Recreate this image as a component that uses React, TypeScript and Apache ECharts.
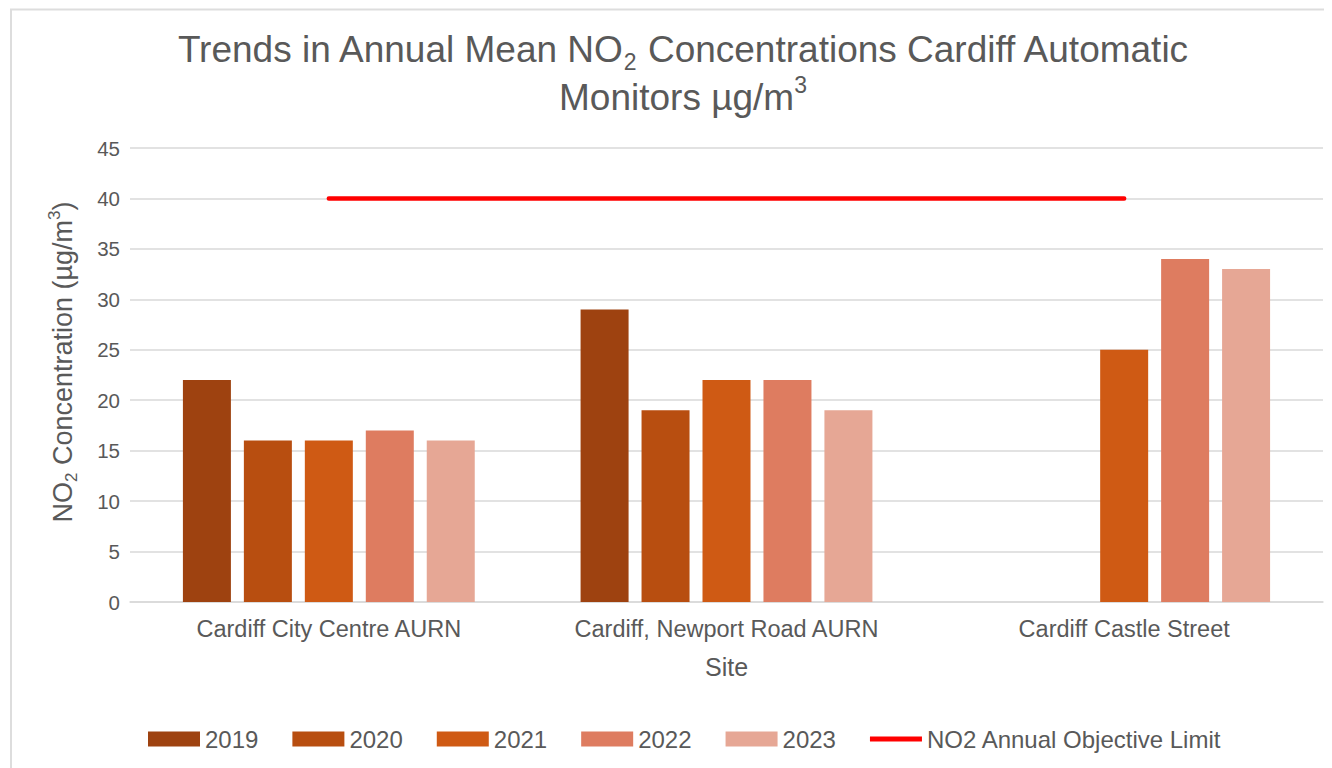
import React, { useEffect, useRef } from "react";
import * as echarts from "echarts";

const categories = ["Cardiff City Centre AURN", "Cardiff, Newport Road AURN", "Cardiff Castle Street"];
const years = ["2019", "2020", "2021", "2022", "2023"];
const values2019 = [22, 29, null];
const values2020 = [16, 19, null];
const values2021 = [16, 22, 25];
const values2022 = [17, 22, 34];
const values2023 = [16, 19, 33];
const limitName = "NO2 Annual Objective Limit";
const limitValues = [40, 40, 40];
const barColors = ["#9E4210", "#B84E10", "#CF5A14", "#DE7C60", "#E6A795"];

const FONT = "'Liberation Sans', Arial, sans-serif";
const TXT = "#595959";

export default function App() {
  const ref = useRef<HTMLDivElement>(null);
  useEffect(() => {
    if (!ref.current) return;
    const chart = echarts.init(ref.current, null, { renderer: "svg" });
    const barData = [values2019, values2020, values2021, values2022, values2023];
    const option: any = {
      animation: false,
      backgroundColor: "#ffffff",
      textStyle: { fontFamily: FONT },
      graphic: [
        {
          type: "rect",
          silent: true,
          shape: { x: 3, y: 1.5, width: 1500, height: 900 },
          style: { fill: "none", stroke: "#DDDDDD", lineWidth: 2 },
        },
        {
          type: "text",
          x: 675,
          y: 17,
          style: {
            text: "{a|Trends in Annual Mean NO}{sub|2}{a| Concentrations Cardiff Automatic}\n{a|Monitors µg/m}{sup|3}",
            align: "center",
            verticalAlign: "top",
            fill: TXT,
            fontFamily: FONT,
            fontSize: 37,
            rich: {
              a: { fontSize: 37, lineHeight: 48, fill: TXT, fontFamily: FONT },
              sub: { fontSize: 23, lineHeight: 27, verticalAlign: "bottom", fill: TXT, fontFamily: FONT },
              sup: { fontSize: 23, lineHeight: 39, verticalAlign: "top", fill: TXT, fontFamily: FONT },
            },
          },
        },
      ],
      legend: {
        left: 135,
        top: 714,
        itemWidth: 52,
        itemHeight: 15,
        itemGap: 34,
        itemStyle: { borderWidth: 0 },
        textStyle: { fontSize: 24, color: TXT, fontFamily: FONT },
        data: [
          ...years.map((y) => ({ name: y, icon: "rect" })),
          { name: limitName, icon: "path://M0,0H52V5H0Z", itemStyle: { color: "#FF0000" } },
        ],
      },
      grid: { left: 122, top: 140, width: 1193, height: 454, containLabel: false },
      xAxis: {
        type: "category",
        data: categories,
        name: "Site",
        nameLocation: "middle",
        nameGap: 52,
        nameTextStyle: { fontSize: 25, color: TXT, fontFamily: FONT },
        axisLine: { lineStyle: { color: "#D9D9D9", width: 1.5 } },
        axisTick: { show: false },
        axisLabel: { fontSize: 23.5, color: TXT, margin: 15, fontFamily: FONT },
      },
      yAxis: {
        type: "value",
        min: 0,
        max: 45,
        interval: 5,
        name: "{a|NO}{sub|2}{a| Concentration (µg/m}{sup|3}{a|)}",
        nameLocation: "middle",
        nameGap: 50,
        nameRotate: 90,
        nameTextStyle: {
          color: TXT,
          fontSize: 27,
          fontFamily: FONT,
          padding: [0, 0, 0, 26],
          rich: {
            a: { fontSize: 27, lineHeight: 34, color: TXT, fontFamily: FONT },
            sub: { fontSize: 17, lineHeight: 19, verticalAlign: "bottom", color: TXT, fontFamily: FONT },
            sup: { fontSize: 17, lineHeight: 28, verticalAlign: "top", color: TXT, fontFamily: FONT },
          },
        },
        axisLine: { show: false },
        axisTick: { show: false },
        axisLabel: { fontSize: 20.5, color: TXT, margin: 10, fontFamily: FONT },
        splitLine: { lineStyle: { color: "#D9D9D9", width: 1.5 } },
      },
      series: [
        ...years.map((y, i) => ({
          name: y,
          type: "bar",
          data: barData[i],
          barWidth: 48,
          barGap: "27%",
          itemStyle: { color: barColors[i] },
        })),
        {
          name: limitName,
          type: "line",
          data: limitValues,
          symbol: "none",
          lineStyle: { color: "#FF0000", width: 4.5, cap: "round" },
          itemStyle: { color: "#FF0000" },
          z: 5,
        },
      ],
    };
    chart.setOption(option);
    return () => chart.dispose();
  }, []);
  return <div ref={ref} style={{ width: 1324, height: 760 }} />;
}
